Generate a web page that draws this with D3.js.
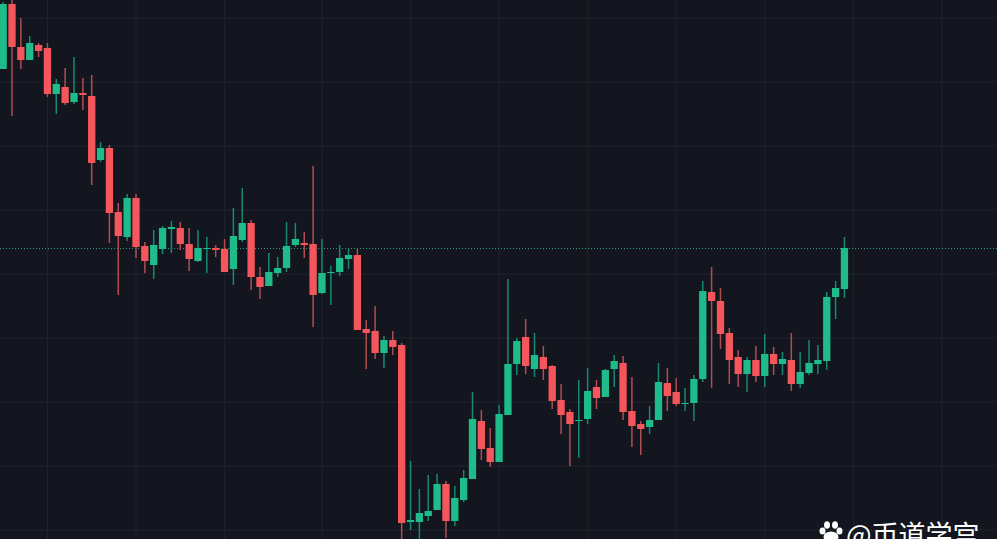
<!DOCTYPE html>
<html><head><meta charset="utf-8">
<script src="https://cdn.jsdelivr.net/npm/d3@7"></script>
<style>html,body{margin:0;padding:0;background:#13161e;overflow:hidden}svg{display:block}</style>
</head><body><svg id="c" width="997" height="539"></svg>
<script>
const opens=[531,596,553,540,555,552,506,513,498,507,504,440,452,388,363,402,354,335,351,371,372,356,339,351,352,351,331,360,377,323,314,327,332,355,357,356,307,327,328,341,345,271,269,247,260,255,78,78,84,90,116,79,100,121,179,152,138,185,236,263,231,243,234,200,188,179,181,213,203,231,237,189,176,173,180,217,208,196,197,221,308,299,267,243,226,240,224,246,236,240,216,227,236,239,303,311];
const highs=[598,600,582,564,557,557,521,532,543,522,525,458,455,397,406,406,358,370,374,379,378,372,370,363,355,361,392,412,380,333,347,343,378,377,368,434,361,334,355,351,351,280,294,264,269,257,139,111,125,126,119,114,130,208,190,172,195,321,262,281,267,254,235,216,191,220,232,220,231,245,244,223,179,194,237,232,222,212,225,319,333,312,272,250,243,254,266,253,248,267,248,260,255,308,319,363];
const lows=[531,484,531,540,543,503,486,495,496,490,415,438,357,305,359,342,327,321,346,347,350,329,338,327,343,328,315,358,310,301,314,323,328,353,342,273,306,295,324,331,270,231,241,232,245,59,70,59,79,90,62,74,98,121,140,133,138,185,225,226,223,220,191,166,134,142,176,191,203,213,180,153,145,166,180,189,194,189,179,218,212,251,216,213,208,218,213,225,225,209,212,225,226,230,281,302];
const closes=[596,553,540,557,549,506,516,497,507,505,437,452,387,364,402,353,339,355,372,373,356,341,352,352,350,328,364,377,323,313,328,332,354,361,355,305,327,328,342,345,270,267,247,260,253,77,80,87,89,116,79,102,122,181,151,138,186,236,259,234,245,231,199,185,176,180,209,202,230,239,188,174,171,180,218,204,196,197,221,309,299,266,240,226,240,224,246,236,241,216,228,237,240,303,312,352];
const lastPrice=351.5;
const priceTicks=[582.5,518.5,454.5,390.5,326.5,262.5,198.5,134.5,70.5];
const timeTicks=[5,15,25,36,46,56,66,76,86,96,106];
const watermark="@币道学宫";

const W=997,H=539;
const svg=d3.select("#c");
const x=d3.scaleLinear().domain([0,95]).range([2.7,844]);
const y=d3.scaleLinear().domain([600,61]).range([0,539]);
svg.append("rect").attr("width",W).attr("height",H).attr("fill","#13161e");

const gridC="#1f232c";
const gy=svg.append("g").call(d3.axisLeft(y).tickValues(priceTicks).tickSize(-W).tickFormat(""));
const gx=svg.append("g").attr("transform",`translate(0,${H})`).call(d3.axisBottom(x).tickValues(timeTicks).tickSize(-H).tickFormat(""));
[gy,gx].forEach(g=>{g.select(".domain").remove();g.selectAll("line").attr("stroke",gridC).attr("stroke-width",1);});

svg.append("line").attr("x1",0).attr("x2",W).attr("y1",y(lastPrice)).attr("y2",y(lastPrice))
  .attr("stroke","#2a9d84").attr("stroke-width",1).attr("stroke-dasharray","1 2");

const candles=d3.range(opens.length).map(i=>({i,o:opens[i],h:highs[i],l:lows[i],c:closes[i]}));
const up="#1fbb8b",down="#f5565c",upW="#178a72",downW="#b04c52";
const g=svg.append("g");
g.selectAll(".w").data(candles).join("rect").attr("class","w")
  .attr("x",d=>x(d.i)-0.3).attr("width",1.5)
  .attr("y",d=>y(d.h)).attr("height",d=>y(d.l)-y(d.h))
  .attr("fill",d=>d.c>=d.o?upW:downW);
g.selectAll(".b").data(candles).join("rect").attr("class","b")
  .attr("x",d=>x(d.i)-3.2).attr("width",7.3)
  .attr("y",d=>y(Math.max(d.o,d.c))).attr("height",d=>Math.max(1,Math.abs(y(d.o)-y(d.c))))
  .attr("fill",d=>d.c>=d.o?up:down);

// watermark
const paw=svg.append("g").attr("fill","#fff");
[[822.5,531,3,3.6],[827,525,3,3.8],[835,525,3,3.8],[839.5,531,3,3.6]].forEach(e=>
  paw.append("ellipse").attr("cx",e[0]).attr("cy",e[1]).attr("rx",e[2]).attr("ry",e[3]));
paw.append("ellipse").attr("cx",831).attr("cy",537).attr("rx",7.5).attr("ry",5.5);
svg.append("text").attr("x",846).attr("y",544.5).attr("fill","#fff")
  .attr("font-family","'Noto Sans CJK SC','Noto Sans',sans-serif").attr("font-size",27).text(watermark);
</script></body></html>
